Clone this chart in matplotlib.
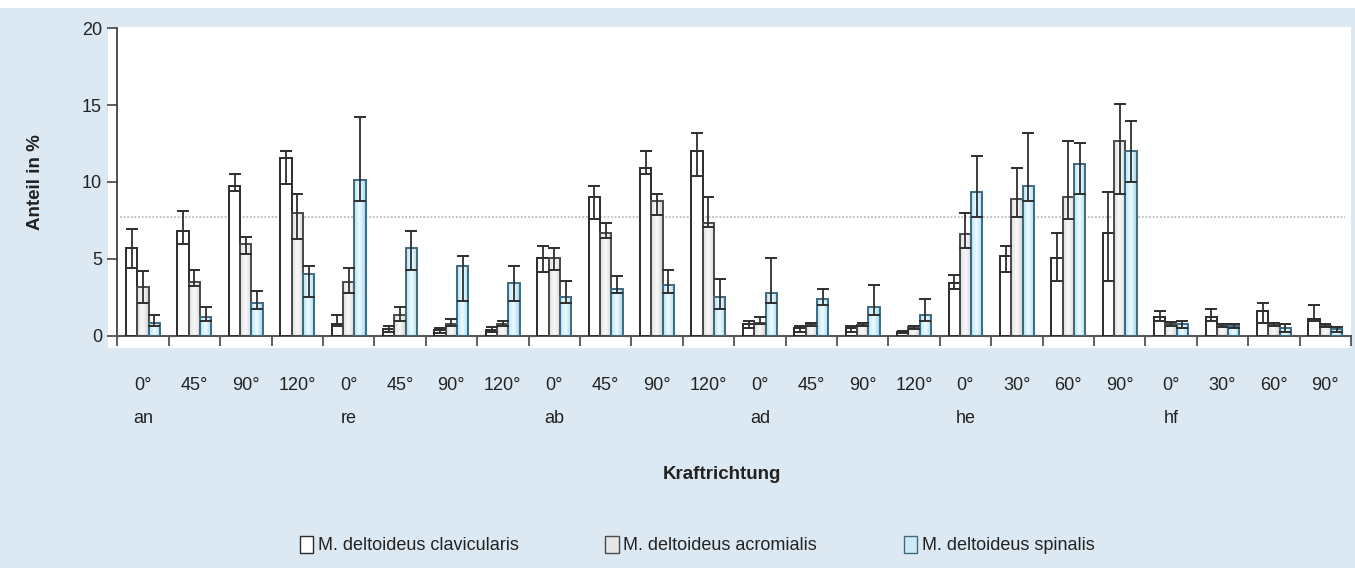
import numpy as np
import matplotlib
matplotlib.use("Agg")
import matplotlib.pyplot as plt
from matplotlib import font_manager as fm
from matplotlib.patches import Rectangle, Patch

# pick a narrow font if one is there
names = {f.name for f in fm.fontManager.ttflist}
narrow = 'Liberation Sans Narrow' if 'Liberation Sans Narrow' in names else 'Liberation Sans'
plt.rcParams['font.family'] = [narrow, 'DejaVu Sans']

# ---------------- data ----------------
angles = ['0°', '45°', '90°', '120°', '0°', '45°', '90°', '120°',
          '0°', '45°', '90°', '120°', '0°', '45°', '90°', '120°',
          '0°', '30°', '60°', '90°', '0°', '30°', '60°', '90°']
directions = ['an', 're', 'ab', 'ad', 'he', 'hf']
series = ['M. deltoideus clavicularis', 'M. deltoideus acromialis', 'M. deltoideus spinalis']

clav = [5.68, 6.83, 9.76, 11.54, 0.74, 0.45, 0.40, 0.40,
        5.05, 9.00, 10.89, 12.04, 0.74, 0.50, 0.48, 0.25,
        3.41, 5.18, 5.05, 6.70, 1.24, 1.24, 1.63, 1.11]
clav_lo = [4.43, 5.94, 9.39, 9.89, 0.61, 0.22, 0.20, 0.25,
           4.16, 7.59, 10.52, 10.39, 0.48, 0.25, 0.22, 0.20,
           3.04, 4.16, 3.54, 3.54, 0.98, 0.98, 0.85, 0.98]
clav_hi = [6.96, 8.11, 10.52, 12.04, 1.37, 0.61, 0.50, 0.55,
           5.84, 9.76, 12.04, 13.19, 0.98, 0.65, 0.61, 0.30,
           3.93, 5.84, 6.70, 9.37, 1.63, 1.76, 2.15, 2.02]

acro = [3.15, 3.51, 5.94, 7.98, 3.51, 1.37, 0.74, 0.74,
        5.05, 6.70, 8.74, 7.35, 0.85, 0.74, 0.70, 0.55,
        6.59, 8.87, 9.00, 12.69, 0.75, 0.65, 0.75, 0.65]
acro_lo = [2.15, 3.25, 5.31, 6.31, 2.78, 0.98, 0.61, 0.61,
           4.30, 6.33, 7.85, 7.09, 0.74, 0.61, 0.60, 0.45,
           5.70, 7.72, 7.59, 9.24, 0.60, 0.55, 0.60, 0.55]
acro_hi = [4.19, 4.30, 6.44, 9.24, 4.43, 1.89, 1.11, 0.98,
           5.70, 7.35, 9.24, 9.00, 1.24, 0.85, 0.80, 0.65,
           7.98, 10.91, 12.69, 15.10, 0.90, 0.75, 0.85, 0.75]

spin = [0.85, 1.24, 2.15, 4.03, 10.13, 5.68, 4.56, 3.41,
        2.52, 3.04, 3.28, 2.52, 2.78, 2.39, 1.89, 1.37,
        9.37, 9.76, 11.15, 12.04, 0.74, 0.61, 0.48, 0.45]
spin_lo = [0.63, 0.98, 1.76, 2.54, 8.74, 4.30, 2.28, 2.28,
           2.15, 2.78, 2.78, 1.76, 2.15, 2.02, 1.37, 0.98,
           7.72, 8.74, 9.24, 10.02, 0.48, 0.48, 0.22, 0.25]
spin_hi = [1.37, 1.89, 2.91, 4.56, 14.21, 6.83, 5.18, 4.56,
           3.54, 3.90, 4.30, 3.67, 5.05, 3.04, 3.28, 2.39,
           11.67, 13.19, 12.56, 13.95, 0.98, 0.74, 0.74, 0.55]

ref_line = 7.75

# ---------------- figure ----------------
W, H = 1355, 568
panel = '#dde9f2'
fig = plt.figure(figsize=(W / 100, H / 100), dpi=100, facecolor=panel)
fig.patches.append(Rectangle((0, (H - 7.5) / H), 1, 7.5 / H, transform=fig.transFigure,
                             facecolor='white', edgecolor='none', zorder=-10))
fig.patches.append(Rectangle((108 / W, (H - 348) / H), (1351 - 108) / W, (348 - 27) / H,
                             transform=fig.transFigure, facecolor='white', edgecolor='none', zorder=-10))

ax = fig.add_axes([117.3 / W, (H - 335.7) / H, (1351 - 117.3) / W, 307.4 / H])
ax.set_facecolor('none')

n = len(angles)
x = np.arange(n) + 0.5
bw = 0.22

# horizontal gradients for the filled bars
t = np.linspace(0, 1, 64)
prof = np.abs(t - 0.45) / 0.55
gray_grad = np.array([0.97 - 0.17 * prof ** 1.5] * 3).T  # (64,3)
gray_grad = gray_grad[None, :, :]
c_mid = np.array([0.93, 0.98, 1.0])
c_edge = np.array([0.60, 0.83, 0.94])
blue_grad = (c_mid[None, :] * (1 - prof[:, None] ** 1.3) + c_edge[None, :] * prof[:, None] ** 1.3)[None, :, :]

styles = [
    (clav, clav_lo, clav_hi, -bw, 'white', '#2b2b2b', None),
    (acro, acro_lo, acro_hi, 0.0, '#ececec', '#4a4a4a', gray_grad),
    (spin, spin_lo, spin_hi, bw, '#cdeaf7', '#3f6b80', blue_grad),
]

for vals, lo, hi, off, fc, ec, grad in styles:
    vals = np.array(vals)
    bars = ax.bar(x + off, vals, bw, facecolor=fc if grad is None else 'none',
                  edgecolor=ec, linewidth=1.4, zorder=3)
    if grad is not None:
        for b in bars:
            x0, w_, h_ = b.get_x(), b.get_width(), b.get_height()
            im = ax.imshow(grad, extent=[x0, x0 + w_, 0, h_], aspect='auto',
                           interpolation='bilinear', zorder=2)
            im.set_clip_path(b)
    yerr = [vals - np.array(lo), np.array(hi) - vals]
    ax.errorbar(x + off, vals, yerr=yerr, fmt='none', ecolor='#2e2e2e',
                elinewidth=1.3, capsize=4.6, capthick=1.4, zorder=4)

ax.axhline(ref_line, xmin=0.002, xmax=0.995, color='#bdbdbd', linestyle=(0, (1, 1)),
           linewidth=1.3, zorder=1)

ax.set_xlim(0, n)
ax.set_ylim(0, 20)
ax.set_yticks([0, 5, 10, 15, 20])
ax.set_xticks(np.arange(n + 1))
ax.set_xticklabels([])
ax.set_xticks(x, minor=True)
ax.set_xticklabels(angles, minor=True, fontsize=13, color='#222222')
ax.tick_params(axis='x', which='major', length=7, width=1.2, color='#444444', direction='out')
ax.tick_params(axis='x', which='minor', length=0, pad=30)
ax.tick_params(axis='y', length=7, width=1.2, color='#444444', direction='out', pad=4,
               labelsize=13, labelcolor='#222222')
for s in ['top', 'right']:
    ax.spines[s].set_visible(False)
ax.spines['left'].set_color('#333333')
ax.spines['left'].set_linewidth(1.2)
ax.spines['bottom'].set_color('#555555')
ax.spines['bottom'].set_linewidth(1.5)

tr = ax.get_xaxis_transform()
for i, d in enumerate(directions):
    ax.text(x[i * 4], -0.268, d, transform=tr, ha='center', va='center',
            fontsize=13, color='#222222')

ax.text(0.49, -0.45, 'Kraftrichtung', transform=ax.transAxes, ha='center', va='center',
        fontsize=13.5, fontweight='bold', color='#222222')
fig.text(35 / W, (H - 182) / H, 'Anteil in %', rotation=90, ha='center', va='center',
         fontsize=13.5, fontweight='bold', color='#222222')

handles = [Patch(facecolor='white', edgecolor='#2b2b2b', linewidth=1.0),
           Patch(facecolor='#e6e6e6', edgecolor='#4a4a4a', linewidth=1.0),
           Patch(facecolor='#cdeaf7', edgecolor='#3f6b80', linewidth=1.0)]
fig.legend(handles, series, loc='center', bbox_to_anchor=(697 / W, (H - 545) / H), ncol=3,
           frameon=False, fontsize=13, handlelength=0.75, handleheight=1.1,
           handletextpad=0.25, columnspacing=4.8, labelcolor='#222222')

fig.savefig('out.png', dpi=100, facecolor=panel)
